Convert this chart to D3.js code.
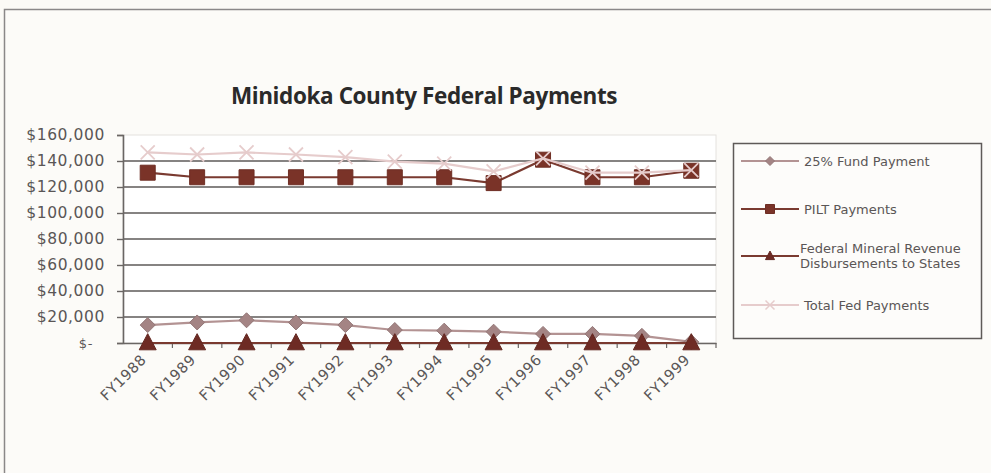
<!DOCTYPE html>
<html>
<head>
<meta charset="utf-8">
<script src="https://cdn.jsdelivr.net/npm/d3@7"></script>
<style>
  html, body { margin: 0; padding: 0; background: #fbfaf6; }
  svg { display: block; }
</style>
</head>
<body>
<svg id="chart" width="991" height="473"></svg>
<script>
// Fiscal years shown on the category axis
const years = ["FY1988","FY1989","FY1990","FY1991","FY1992","FY1993","FY1994","FY1995","FY1996","FY1997","FY1998","FY1999"];

// Payment series, in dollars
const fundPayment    = [13800, 15800, 17500, 15800, 13800, 10000, 9500, 8700, 7000, 7000, 5500, 800];
const piltPayments   = [131000, 127500, 127500, 127500, 127500, 127500, 127500, 123000, 141000, 127500, 127500, 132500];
const mineralRevenue = [0, 0, 0, 0, 0, 0, 0, 0, 0, 0, 0, 0];
const totalFed       = [146600, 145000, 146600, 145000, 143000, 139500, 138000, 132000, 142000, 131000, 131000, 133000];

// Value axis ticks
const yTicks = [0, 20000, 40000, 60000, 80000, 100000, 120000, 140000, 160000];

const series = [
  { name: ["25% Fund Payment"], values: fundPayment, stroke: "#b39393", fill: "#a48484", marker: "diamond" },
  { name: ["PILT Payments"], values: piltPayments, stroke: "#7a3a30", fill: "#7a3328", marker: "square" },
  { name: ["Federal Mineral Revenue", "Disbursements to States"], values: mineralRevenue, stroke: "#7a3a30", fill: "#6e2b24", marker: "triangle" },
  { name: ["Total Fed Payments"], values: totalFed, stroke: "#e6cccc", fill: "none", marker: "x" }
];

const svg = d3.select("#chart");
const labelFont = "'DejaVu Sans', sans-serif";
const textColor = "#5a5656";

// Outer frame
svg.append("rect")
  .attr("x", 4.5).attr("y", 9.5).attr("width", 1000).attr("height", 480)
  .attr("fill", "#fcfbf8").attr("stroke", "#8a8888").attr("stroke-width", 1.5);

const plot = { left: 123, right: 716, top: 135, bottom: 343 };

const x = d3.scaleBand().domain(years).range([plot.left, plot.right]);
const y = d3.scaleLinear().domain([0, 160000]).range([plot.bottom, plot.top]);
const cx = d => x(d) + x.bandwidth() / 2;

// Plot area
svg.append("rect")
  .attr("x", plot.left).attr("y", plot.top)
  .attr("width", plot.right - plot.left).attr("height", plot.bottom - plot.top)
  .attr("fill", "#ffffff").attr("stroke", "#e4e2de").attr("stroke-width", 1);

// Title
svg.append("text")
  .attr("x", 424).attr("y", 104)
  .attr("text-anchor", "middle")
  .attr("font-family", "'Open Sans', sans-serif")
  .attr("font-weight", "bold")
  .attr("font-size", 22.5)
  .attr("fill", "#2a2a2a")
  .attr("letter-spacing", "-0.4px")
  .text("Minidoka County Federal Payments");

// Horizontal gridlines
svg.append("g")
  .selectAll("line")
  .data(yTicks.filter(v => v > 0 && v < 160000))
  .join("line")
  .attr("x1", plot.left).attr("x2", plot.right)
  .attr("y1", d => y(d)).attr("y2", d => y(d))
  .attr("stroke", "#5e5a58").attr("stroke-width", 1.6);

// Value axis
const yAxis = d3.axisLeft(y)
  .tickValues(yTicks)
  .tickSize(6)
  .tickPadding(12)
  .tickFormat(v => v === 0 ? "$-" : "$" + d3.format(",")(v));

const gy = svg.append("g")
  .attr("transform", `translate(${plot.left},0)`)
  .call(yAxis);
gy.select(".domain").attr("stroke", "#6a6664").attr("stroke-width", 1.6);
gy.selectAll(".tick line").attr("stroke", "#6a6664").attr("stroke-width", 1.4);
gy.selectAll(".tick text")
  .attr("font-family", labelFont).attr("font-size", 15.5)
  .attr("letter-spacing", "0.6px")
  .attr("fill", textColor);
gy.selectAll(".tick text").filter(d => d === 0).attr("dx", -12).attr("font-size", 13);

// Category axis with tick marks at category boundaries
const xAxis = d3.axisBottom(x).tickSize(0).tickPadding(0);
const gx = svg.append("g")
  .attr("transform", `translate(0,${plot.bottom})`)
  .call(xAxis);
gx.select(".domain").attr("stroke", "#6a6664").attr("stroke-width", 1.6);
gx.selectAll(".tick text")
  .attr("font-family", labelFont).attr("font-size", 14.5)
  .attr("letter-spacing", "0.6px")
  .attr("fill", textColor)
  .attr("text-anchor", "end")
  .attr("transform", "translate(-4,14) rotate(-45)")
  .attr("dy", "0.35em");

svg.append("g")
  .selectAll("line")
  .data(years)
  .join("line")
  .attr("x1", d => x(d) + x.bandwidth())
  .attr("x2", d => x(d) + x.bandwidth())
  .attr("y1", plot.bottom).attr("y2", plot.bottom + 5)
  .attr("stroke", "#6a6664").attr("stroke-width", 1.2);

// Marker shapes
function markerPath(kind, s) {
  if (kind === "diamond") return `M0,${-s}L${s},0L0,${s}L${-s},0Z`;
  if (kind === "square") return `M${-s},${-s}H${s}V${s}H${-s}Z`;
  if (kind === "triangle") return `M0,${-s * 1.1}L${s},${s * 0.8}H${-s}Z`;
  return `M${-s},${-s}L${s},${s}M${s},${-s}L${-s},${s}`;
}
const markerSize = { diamond: 7.5, square: 7.5, triangle: 8.5, x: 7 };

const line = d3.line().x((d, i) => cx(years[i])).y(d => y(d));

// Lines and markers, drawn in series order
series.forEach(s => {
  const g = svg.append("g");
  g.append("path")
    .attr("d", line(s.values))
    .attr("fill", "none")
    .attr("stroke", s.stroke)
    .attr("stroke-width", 2.2);
  g.selectAll("path.mk")
    .data(s.values)
    .join("path")
    .attr("class", "mk")
    .attr("transform", (d, i) => `translate(${cx(years[i])},${y(d)})`)
    .attr("d", markerPath(s.marker, markerSize[s.marker]))
    .attr("fill", s.marker === "x" ? "none" : s.fill)
    .attr("stroke", s.marker === "x" ? s.stroke : d3.color(s.fill).darker(0.3))
    .attr("stroke-width", s.marker === "x" ? 1.8 : 1);
});

// Legend
const legend = svg.append("g");
legend.append("rect")
  .attr("x", 733.5).attr("y", 143.5).attr("width", 248).attr("height", 195)
  .attr("fill", "#fdfcfa").attr("stroke", "#5e5a58").attr("stroke-width", 1.5);

const legendY = [161, 209, 256, 305];
series.forEach((s, i) => {
  const ly = legendY[i];
  const g = legend.append("g");
  g.append("line")
    .attr("x1", 741).attr("x2", 799).attr("y1", ly).attr("y2", ly)
    .attr("stroke", s.stroke).attr("stroke-width", 2);
  g.append("path")
    .attr("transform", `translate(770,${ly})`)
    .attr("d", markerPath(s.marker, 4.5))
    .attr("fill", s.marker === "x" ? "none" : s.fill)
    .attr("stroke", s.marker === "x" ? s.stroke : d3.color(s.fill).darker(0.3))
    .attr("stroke-width", s.marker === "x" ? 1.5 : 1);
  const t = g.append("text")
    .attr("font-family", labelFont).attr("font-size", 13)
    .attr("fill", textColor);
  if (s.name.length === 1) {
    t.attr("x", 804).attr("y", ly).attr("dy", "0.35em").text(s.name[0]);
  } else {
    s.name.forEach((n, k) => {
      t.append("tspan").attr("x", 800).attr("y", ly - 8 + k * 15).attr("dy", "0.35em").text(n);
    });
  }
});
</script>
</body>
</html>
